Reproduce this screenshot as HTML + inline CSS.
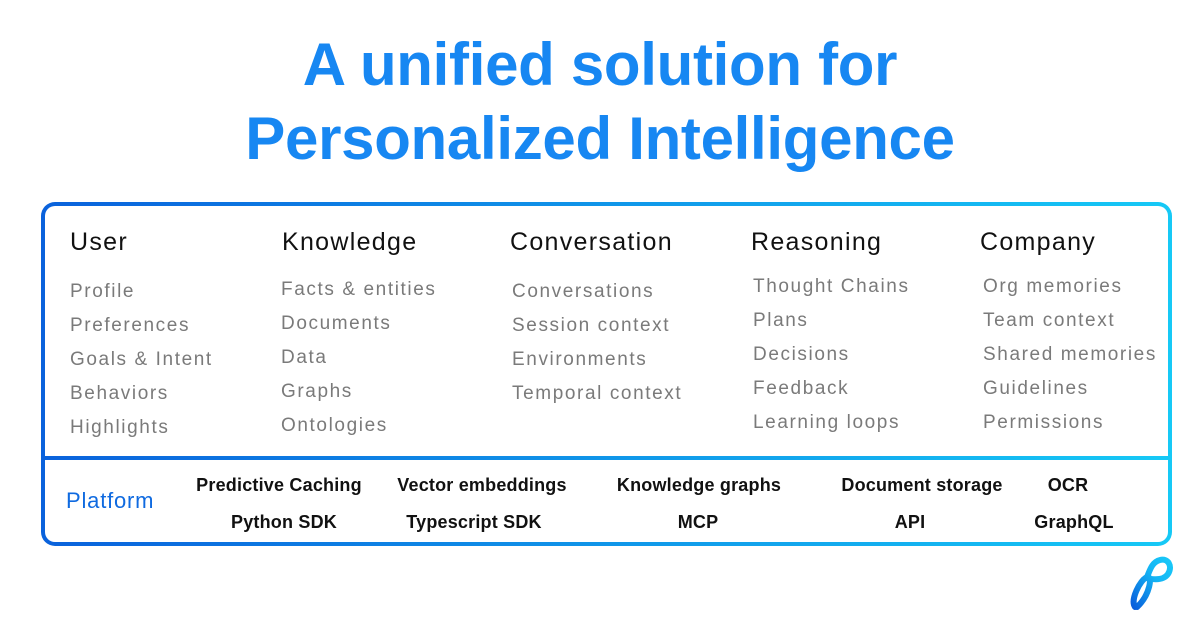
<!DOCTYPE html>
<html><head><style>
body{margin:0;width:1200px;height:630px;background:#fff;position:relative;overflow:hidden;font-family:"Liberation Sans",sans-serif}
.t{position:absolute;left:0;width:1200px;text-align:center;color:#1787f2;font-weight:bold;font-size:60px;letter-spacing:-0.3px}
.box{position:absolute;left:41px;top:202px;width:1131px;height:344px;box-sizing:border-box;border-radius:14px;padding:4px;background:linear-gradient(90deg,#0a62dc,#16c9f6)}
.in{width:100%;height:100%;background:#fff;border-radius:10px}
.div{position:absolute;left:41px;top:456px;width:1131px;height:4px;background:linear-gradient(90deg,#0a62dc,#16c9f6)}
.h{position:absolute;font-size:25px;color:#111;letter-spacing:1.3px}
.i{position:absolute;font-size:19px;color:#7a7a7a;letter-spacing:1.6px;line-height:34px}
.p{position:absolute;font-size:18px;font-weight:bold;color:#111;transform:translateX(-50%);white-space:nowrap;letter-spacing:0.2px}
</style></head><body>
<div class="t" style="top:30px">A unified solution for</div>
<div class="t" style="top:104px">Personalized Intelligence</div>
<div class="box"><div class="in"></div></div>
<div class="div"></div>
<div class="h" style="left:70px;top:228px">User</div>
<div class="h" style="left:282px;top:228px">Knowledge</div>
<div class="h" style="left:510px;top:228px">Conversation</div>
<div class="h" style="left:751px;top:228px">Reasoning</div>
<div class="h" style="left:980px;top:228px">Company</div>
<div class="i" style="left:70px;top:275px">Profile<br>Preferences<br>Goals &amp; Intent<br>Behaviors<br>Highlights</div>
<div class="i" style="left:281px;top:273px">Facts &amp; entities<br>Documents<br>Data<br>Graphs<br>Ontologies</div>
<div class="i" style="left:512px;top:275px">Conversations<br>Session context<br>Environments<br>Temporal context</div>
<div class="i" style="left:753px;top:270px">Thought Chains<br>Plans<br>Decisions<br>Feedback<br>Learning loops</div>
<div class="i" style="left:983px;top:270px">Org memories<br>Team context<br>Shared memories<br>Guidelines<br>Permissions</div>
<div style="position:absolute;left:66px;top:488px;font-size:22px;color:#0f6ae0;letter-spacing:0.8px">Platform</div>
<div class="p" style="left:279px;top:475px">Predictive Caching</div>
<div class="p" style="left:482px;top:475px">Vector embeddings</div>
<div class="p" style="left:699px;top:475px">Knowledge graphs</div>
<div class="p" style="left:922px;top:475px">Document storage</div>
<div class="p" style="left:1068px;top:475px">OCR</div>
<div class="p" style="left:284px;top:512px">Python SDK</div>
<div class="p" style="left:474px;top:512px">Typescript SDK</div>
<div class="p" style="left:698px;top:512px">MCP</div>
<div class="p" style="left:910px;top:512px">API</div>
<div class="p" style="left:1074px;top:512px">GraphQL</div>
<svg style="position:absolute;left:1120px;top:550px" width="60" height="70" viewBox="0 0 60 70">
<defs><linearGradient id="g" x1="0" y1="1" x2="1" y2="0"><stop offset="0" stop-color="#0a5fdc"/><stop offset="0.6" stop-color="#14b4f4"/><stop offset="1" stop-color="#18c8f8"/></linearGradient></defs>
<path d="M15 57 C10 50 20 30 27 27 C33 25 30 45 17 57 M27 27 C30 20 32 12 40 10 C48 8 53 16 48 24 C44 30 35 30 26 28" fill="none" stroke="url(#g)" stroke-width="6" stroke-linecap="round"/>
</svg>
</body></html>
